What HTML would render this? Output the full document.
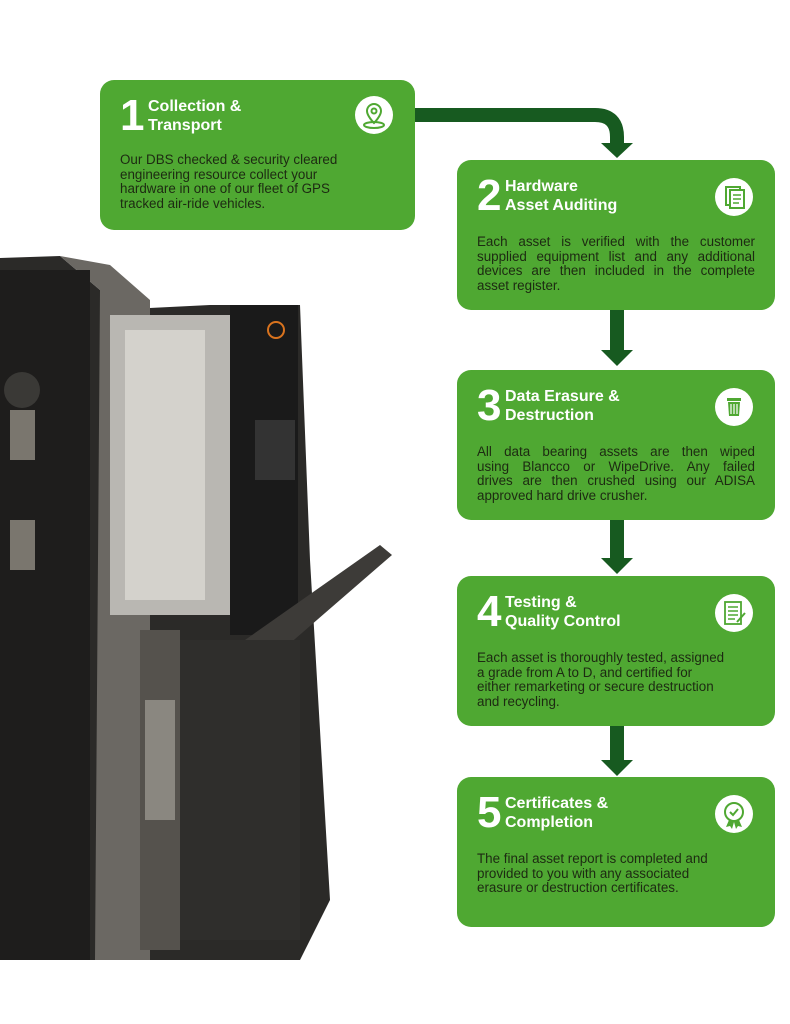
<!DOCTYPE html>
<html><head><style>
body{margin:0;width:790px;height:1024px;background:#fff;position:relative;overflow:hidden;font-family:"Liberation Sans",sans-serif}
.box{position:absolute;background:#4fa832;border-radius:14px;width:318px;height:150px}
.num{position:absolute;left:20px;top:14px;font-size:44px;font-weight:bold;color:#fff;line-height:44px}
.ttl{position:absolute;left:48px;top:17px;font-size:16px;font-weight:bold;color:#fff;line-height:19px}
.bd{position:absolute;left:20px;right:20px;top:75px;font-size:13.4px;color:#1d2a12;line-height:14.5px;white-space:nowrap}
.bd span{display:block}
.j span{text-align:justify;text-align-last:justify}
.j span:last-child{text-align-last:left}
.ic{position:absolute;right:22px;top:18px;width:38px;height:38px;border-radius:50%;background:#fff}
.ic svg{position:absolute;left:0;top:0}
</style></head><body>
<svg width="790" height="1024" style="position:absolute;left:0;top:0">
<polygon points="0,258 60,256 100,290 110,310 210,305 300,305 310,560 330,900 300,960 0,960" fill="#2b2a28"/>
<polygon points="60,256 100,290 95,960 150,960 150,300 110,265" fill="#6b6863"/>
<rect x="0" y="270" width="90" height="690" fill="#1e1d1c"/>
<rect x="110" y="315" width="120" height="300" fill="#b9b7b2"/>
<rect x="125" y="330" width="80" height="270" fill="#d4d2cc"/>
<rect x="230" y="305" width="68" height="330" fill="#1a1a1a"/>
<circle cx="276" cy="330" r="8" fill="none" stroke="#d9731e" stroke-width="2"/>
<rect x="255" y="420" width="40" height="60" fill="#333"/>
<polygon points="245,640 380,545 392,555 265,665" fill="#3d3b38"/>
<rect x="140" y="630" width="40" height="320" fill="#55524d"/>
<rect x="180" y="640" width="120" height="300" fill="#2f2e2c"/>
<rect x="145" y="700" width="30" height="120" fill="#8a8780"/>
<rect x="10" y="410" width="25" height="50" fill="#7a766e"/>
<rect x="10" y="520" width="25" height="50" fill="#7a766e"/>
<circle cx="22" cy="390" r="18" fill="#3a3936"/>
<path d="M415,115 H595 Q617,115 617,137 V145" fill="none" stroke="#175a20" stroke-width="14"/>
<polygon points="601,143 633,143 617,158" fill="#175a20"/>
<rect x="610" y="310" width="14" height="42" fill="#175a20"/>
<polygon points="601,350 633,350 617,366" fill="#175a20"/>
<rect x="610" y="520" width="14" height="40" fill="#175a20"/>
<polygon points="601,558 633,558 617,574" fill="#175a20"/>
<rect x="610" y="726" width="14" height="36" fill="#175a20"/>
<polygon points="601,760 633,760 617,776" fill="#175a20"/>
</svg>

<div class="box" style="left:100px;top:80px;width:315px">
<div class="num">1</div><div class="ttl">Collection &amp;<br>Transport</div>
<div class="ic" style="top:16px"><svg width="38" height="38"><path d="M19,8 a7,7 0 0 1 7,7 c0,5 -7,12 -7,12 c0,0 -7,-7 -7,-12 a7,7 0 0 1 7,-7z" fill="none" stroke="#4fa832" stroke-width="2"/><circle cx="19" cy="15" r="2.5" fill="none" stroke="#4fa832" stroke-width="2"/><ellipse cx="19" cy="29" rx="10" ry="3" fill="none" stroke="#4fa832" stroke-width="2"/></svg></div>
<div class="bd" style="top:73px"><span>Our DBS checked &amp; security cleared</span><span>engineering resource collect your</span><span>hardware in one of our fleet of GPS</span><span>tracked air-ride vehicles.</span></div></div>

<div class="box" style="left:457px;top:160px">
<div class="num">2</div><div class="ttl">Hardware<br>Asset Auditing</div><div class="ic"><svg width="38" height="38"><rect x="11" y="9" width="14" height="18" fill="none" stroke="#4fa832" stroke-width="2"/><rect x="15" y="12" width="14" height="18" fill="#fff" stroke="#4fa832" stroke-width="2"/><path d="M18,17h8M18,21h8M18,25h6" stroke="#4fa832" stroke-width="1.5"/></svg></div>
<div class="bd j"><span>Each asset is verified with the customer</span><span>supplied equipment list and any additional</span><span>devices are then included in the complete</span><span>asset register.</span></div></div>

<div class="box" style="left:457px;top:370px">
<div class="num">3</div><div class="ttl">Data Erasure &amp;<br>Destruction</div><div class="ic"><svg width="38" height="38"><rect x="12" y="10" width="14" height="3" fill="#4fa832"/><path d="M13,14h12l-1,14h-10z" fill="#4fa832"/><path d="M16,16v10M19,16v10M22,16v10" stroke="#fff" stroke-width="1.2"/></svg></div>
<div class="bd j"><span>All data bearing assets are then wiped</span><span>using Blancco or WipeDrive. Any failed</span><span>drives are then crushed using our ADISA</span><span>approved hard drive crusher.</span></div></div>

<div class="box" style="left:457px;top:576px">
<div class="num">4</div><div class="ttl">Testing &amp;<br>Quality Control</div><div class="ic"><svg width="38" height="38"><rect x="10" y="8" width="16" height="22" fill="none" stroke="#4fa832" stroke-width="1.8"/><path d="M13,13h10M13,17h10M13,21h10M13,25h7" stroke="#4fa832" stroke-width="1.5"/><path d="M22,28l8,-9" stroke="#4fa832" stroke-width="2"/></svg></div>
<div class="bd"><span>Each asset is thoroughly tested, assigned</span><span>a grade from A to D, and certified for</span><span>either remarketing or secure destruction</span><span>and recycling.</span></div></div>

<div class="box" style="left:457px;top:777px">
<div class="num">5</div><div class="ttl">Certificates &amp;<br>Completion</div><div class="ic"><svg width="38" height="38"><circle cx="19" cy="17" r="9" fill="none" stroke="#4fa832" stroke-width="2"/><path d="M15,17l3,3l5,-6" fill="none" stroke="#4fa832" stroke-width="2"/><path d="M14,25l-3,7l4,-1l2,3l2,-7M24,25l3,7l-4,-1l-2,3l-2,-7" fill="#4fa832"/></svg></div>
<div class="bd"><span>The final asset report is completed and</span><span>provided to you with any associated</span><span>erasure or destruction certificates.</span></div></div>
</body></html>
